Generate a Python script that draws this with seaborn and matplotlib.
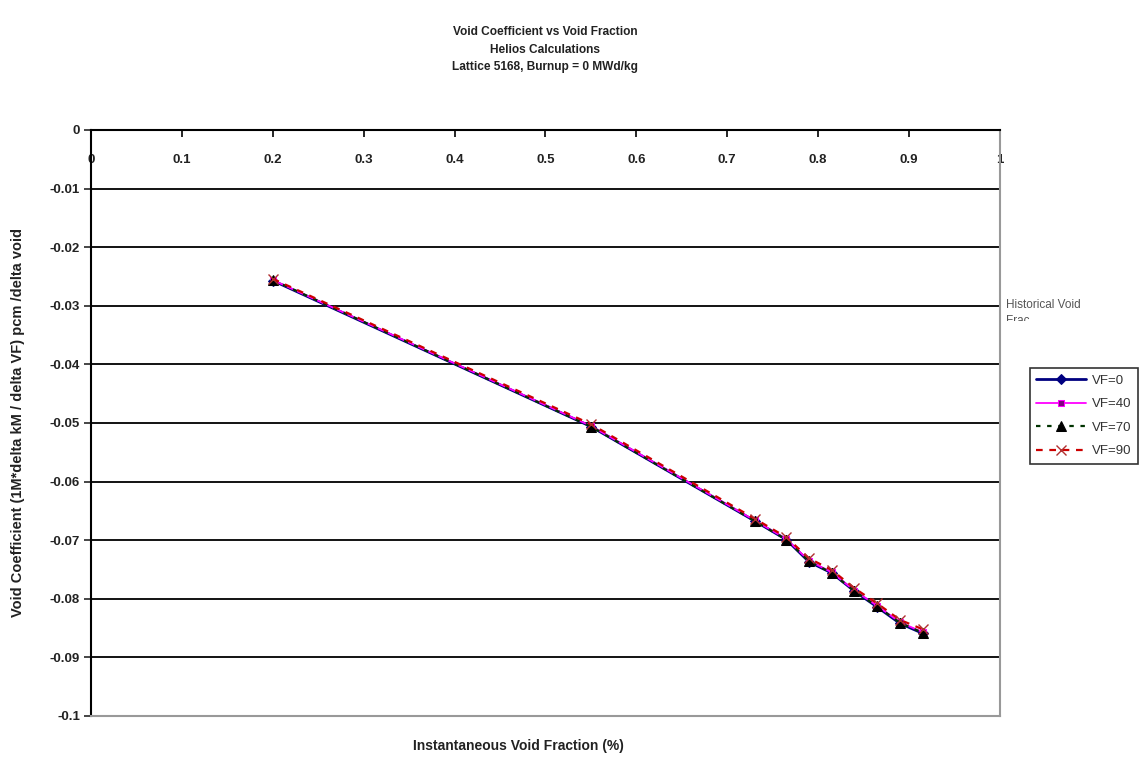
import matplotlib
matplotlib.use("Agg")
import pandas as pd
import seaborn as sns
import matplotlib.pyplot as plt
import matplotlib.ticker as mticker
from matplotlib.transforms import Bbox

void_fraction = [0.2, 0.55, 0.73, 0.765, 0.79, 0.815, 0.84, 0.865, 0.89, 0.915]
vf_0 = [-0.0257, -0.0506, -0.0667, -0.0699, -0.0737, -0.0756, -0.0787, -0.0814, -0.0842, -0.0859]
vf_40 = [-0.0256, -0.0505, -0.0666, -0.0698, -0.0735, -0.0755, -0.0786, -0.0812, -0.0840, -0.0857]
vf_70 = [-0.0256, -0.0506, -0.0667, -0.0699, -0.0736, -0.0756, -0.0787, -0.0813, -0.0841, -0.0858]
vf_90 = [-0.0254, -0.0502, -0.0663, -0.0695, -0.0731, -0.0751, -0.0782, -0.0808, -0.0836, -0.0852]

series_names = ["VF=0", "VF=40", "VF=70", "VF=90"]
x_ticks = [0, 0.1, 0.2, 0.3, 0.4, 0.5, 0.6, 0.7, 0.8, 0.9, 1]
y_ticks = [0, -0.01, -0.02, -0.03, -0.04, -0.05, -0.06, -0.07, -0.08, -0.09, -0.1]

df = pd.DataFrame({"x": void_fraction * 4,
                   "y": vf_0 + vf_40 + vf_70 + vf_90,
                   "series": [s for s in series_names for _ in void_fraction]})

sns.set_style("white")
plt.rcParams['font.family'] = ['Liberation Sans', 'DejaVu Sans']

fig = plt.figure(figsize=(11.48, 7.62), dpi=100)
ax = fig.add_axes([0.0793, 0.0604, 0.7917, 0.769])

styles = {
    "VF=0": dict(color="#000080", linestyle="-", linewidth=2, marker="D", markersize=5,
                 markerfacecolor="#000080", markeredgecolor="#000080"),
    "VF=40": dict(color="#FF00FF", linestyle="-", linewidth=1.3, marker="s", markersize=5,
                  markerfacecolor="#800080", markeredgecolor="#FF00FF"),
    "VF=70": dict(color="#003300", linestyle=(0, (2, 3)), linewidth=1.6, marker="^", markersize=6.5,
                  markerfacecolor="black", markeredgecolor="black"),
    "VF=90": dict(color="#CC0000", linestyle=(0, (3, 3)), linewidth=1.6, marker="x", markersize=6.5,
                  markeredgecolor="#B03030", markeredgewidth=1),
}

for name in series_names:
    sub = df[df["series"] == name]
    sns.lineplot(data=sub, x="x", y="y", ax=ax, label=name, **styles[name])

ax.set_xlim(0, 1)
ax.set_ylim(-0.1, 0)
ax.set_xticks(x_ticks)
ax.set_yticks(y_ticks)
fmt = mticker.FuncFormatter(lambda v, p: "%g" % v)
ax.xaxis.set_major_formatter(fmt)
ax.yaxis.set_major_formatter(fmt)

ax.grid(False)
for yv in y_ticks[1:-1]:
    ax.axhline(yv, color="black", linewidth=1.3, zorder=0)

ax.spines["top"].set_color("black")
ax.spines["top"].set_linewidth(1.5)
ax.spines["left"].set_color("black")
ax.spines["left"].set_linewidth(1.5)
ax.spines["right"].set_color("#999999")
ax.spines["bottom"].set_color("#999999")
ax.spines["right"].set_linewidth(1.5)
ax.spines["bottom"].set_linewidth(1.5)

ax.tick_params(axis="x", top=True, bottom=False, labeltop=True, labelbottom=False,
               direction="in", length=5, width=1.2, pad=-26, labelsize=9.5, colors="black")
ax.tick_params(axis="y", left=True, direction="out", length=5, width=1.2, labelsize=9.5, pad=3)
for lab in ax.get_xticklabels() + ax.get_yticklabels():
    lab.set_fontweight("bold")
    lab.set_color("#222222")

ax.set_xlabel("")
ax.set_ylabel("")
fig.text(0.452, 0.021, "Instantaneous Void Fraction (%)", ha="center", va="center",
         fontsize=10, fontweight="bold", color="#222222")
fig.text(0.016, 0.445, "Void Coefficient (1M*delta kM / delta VF) pcm /delta void",
         ha="center", va="center", rotation=90, fontsize=10.5, fontweight="bold", color="#222222")

fig.text(0.4747, 0.935, "Void Coefficient vs Void Fraction\nHelios Calculations\nLattice 5168, Burnup = 0 MWd/kg",
         ha="center", va="center", fontsize=8.6, fontweight="bold", color="#222222", linespacing=1.6)

hist = fig.text(0.876, 0.589, "Historical Void\nFrac", ha="left", va="center", fontsize=8.5,
                color="#555555", linespacing=1.5)
hist.set_clip_box(Bbox.from_extents(0, 762 - 321, 1148, 762))
hist.set_clip_on(True)

leg = ax.legend(loc="upper left", bbox_to_anchor=(0.897, 0.517), bbox_transform=fig.transFigure,
                borderaxespad=0, frameon=True, fancybox=False, fontsize=9.5, handlelength=3.8,
                handletextpad=0.4, labelspacing=0.85, borderpad=0.5)
leg.get_frame().set_edgecolor("black")
leg.get_frame().set_linewidth(1.2)
for t in leg.get_texts():
    t.set_color("#333333")

fig.savefig("out.png", dpi=100)
